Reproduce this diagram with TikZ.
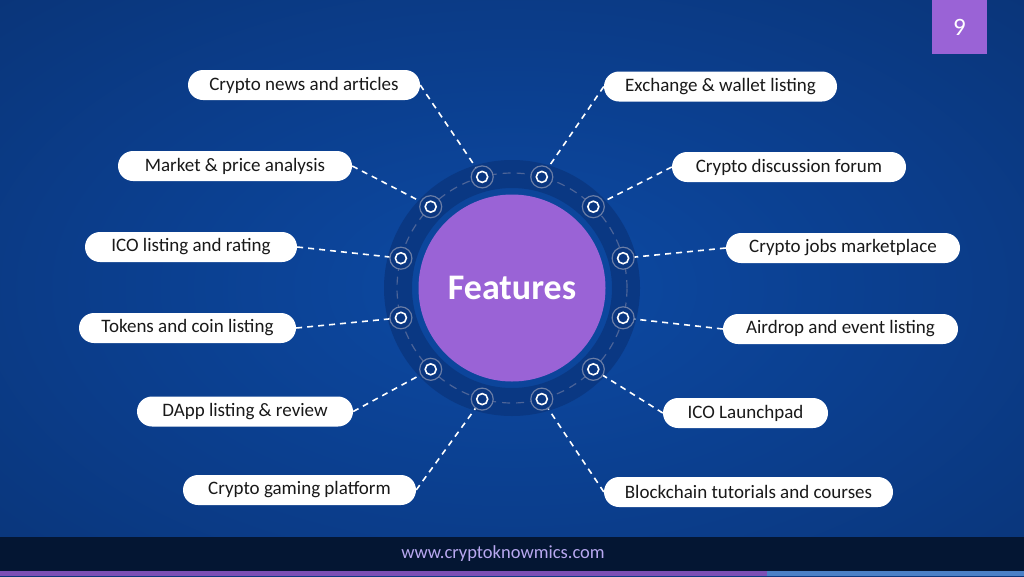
\documentclass[tikz,border=0pt]{standalone}
\usepackage{fontspec}
\setmainfont{Carlito}

\definecolor{bgin}{HTML}{0D4AA4}
\definecolor{bgmid}{HTML}{0B3F8F}
\definecolor{bgout}{HTML}{092D68}
\definecolor{band}{HTML}{0A3883}
\definecolor{ringline}{HTML}{4C6498}
\definecolor{portline}{HTML}{6A7DA6}
\definecolor{portfill}{HTML}{0A3680}
\definecolor{hub}{HTML}{9A63D6}
\definecolor{footbar}{HTML}{041633}
\definecolor{footpurple}{HTML}{7B4FB5}
\definecolor{footblue}{HTML}{4A80C6}
\definecolor{weblink}{HTML}{B8A8F0}

\pgfdeclareradialshading{bgglow}{\pgfpoint{0bp}{0bp}}{color(0bp)=(bgin); color(18bp)=(bgmid); color(50bp)=(bgout)}

\tikzset{
  feat/.style={fill=white, rounded corners=15pt, minimum height=30pt, inner xsep=20pt, inner ysep=4pt, font=\fontsize{19}{22}\selectfont, text=black!90},
  port/.style={circle, minimum size=22pt, inner sep=0pt, draw=portline, line width=1.2pt, fill=portfill,
    path picture={\draw[white, line width=1.6pt] (path picture bounding box.center) circle (5.5pt);}},
  link/.style={white, line width=1.6pt, dash pattern=on 6pt off 5pt}
}

\begin{document}
\begin{tikzpicture}[x=1pt, y=-1pt]
      \useasboundingbox (0,0) rectangle (1024,576);

      % Draw background
      \shade[shading=bgglow] (0,0) rectangle (1024,576);
      \fill[footbar] (0,537) rectangle (1024,571);
      \fill[footpurple] (0,571) rectangle (767,576);
      \fill[footblue] (767,571) rectangle (1024,576);
      \node[font=\fontsize{18.5}{20}\selectfont, text=weblink] (web) at (503,554) {www.cryptoknowmics.com};

      % Page number
      \fill[hub] (932,0) rectangle (987,54);
      \node[font=\fontsize{25}{28}\selectfont, text=white] (page) at (959.5,27) {9};

      % Ring round the hub
      \fill[band, even odd rule] (512,288) circle (128pt) (512,288) circle (100pt);
      \draw[ringline, line width=1.2pt, dash pattern=on 8pt off 6pt] (512,288) circle (115pt);
      \node[circle, fill=hub, minimum size=187pt, inner sep=0pt, text=white,
        font=\fontsize{36}{40}\selectfont\bfseries] (features) at (512,288) {Features};

      % Ports on the ring
      \node[port] (p15) at (623.1,258.2) {};
      \node[port] (p45) at (593.3,206.7) {};
      \node[port] (p75) at (541.8,176.9) {};
      \node[port] (p105) at (482.2,176.9) {};
      \node[port] (p135) at (430.7,206.7) {};
      \node[port] (p165) at (400.9,258.2) {};
      \node[port] (p195) at (400.9,317.8) {};
      \node[port] (p225) at (430.7,369.3) {};
      \node[port] (p255) at (482.2,399.1) {};
      \node[port] (p285) at (541.8,399.1) {};
      \node[port] (p315) at (593.3,369.3) {};
      \node[port] (p345) at (623.1,317.8) {};

      % Feature labels
      \node[feat, minimum width=232pt] (news) at (304,85) {Crypto news and articles};
      \node[feat, minimum width=233pt] (exchange) at (720.5,86.5) {Exchange \& wallet listing};
      \node[feat, minimum width=234pt] (market) at (235,166) {Market \& price analysis};
      \node[feat, minimum width=234pt] (forum) at (789,167) {Crypto discussion forum};
      \node[feat, minimum width=212pt] (ico) at (191,247) {ICO listing and rating};
      \node[feat, minimum width=234pt] (jobs) at (843,248) {Crypto jobs marketplace};
      \node[feat, minimum width=217pt] (tokens) at (187.5,328) {Tokens and coin listing};
      \node[feat, minimum width=235pt] (airdrop) at (840.5,329) {Airdrop and event listing};
      \node[feat, minimum width=216pt] (dapp) at (245,411.5) {DApp listing \& review};
      \node[feat, minimum width=165pt] (launchpad) at (745.5,413) {ICO Launchpad};
      \node[feat, minimum width=233pt] (gaming) at (299.5,490) {Crypto gaming platform};
      \node[feat, minimum width=289pt] (tutorials) at (748.5,492) {Blockchain tutorials and courses};

      % Dashed links
      \draw[link] (news.east) -- (p105);
      \draw[link] (exchange.west) -- (p75);
      \draw[link] (market.east) -- (p135);
      \draw[link] (forum.west) -- (p45);
      \draw[link] (ico.east) -- (p165);
      \draw[link] (jobs.west) -- (p15);
      \draw[link] (tokens.east) -- (p195);
      \draw[link] (airdrop.west) -- (p345);
      \draw[link] (dapp.east) -- (p225);
      \draw[link] (launchpad.west) -- (p315);
      \draw[link] (gaming.east) -- (p255);
      \draw[link] (tutorials.west) -- (p285);
    \end{tikzpicture}
\end{document}
